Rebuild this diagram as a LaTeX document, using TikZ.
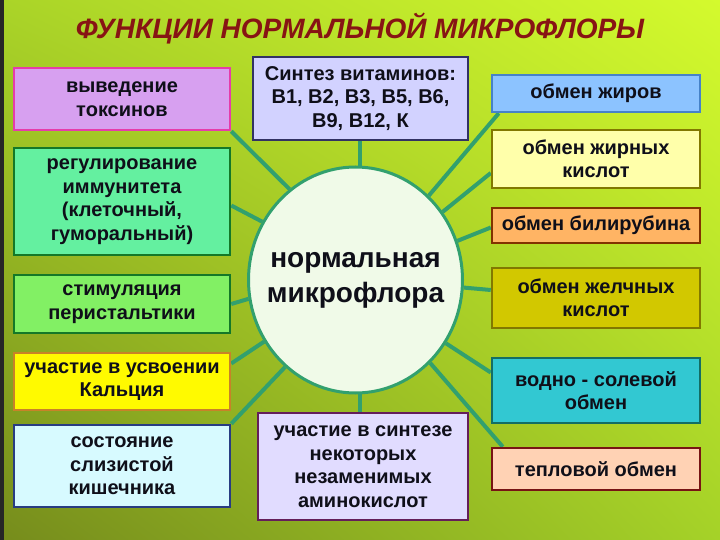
\documentclass[tikz,border=0pt]{standalone}
\usepackage{fontspec}
\setmainfont{Liberation Sans}
\usetikzlibrary{calc,shapes.geometric,shadings}
\pgfdeclarelayer{bg}
\pgfdeclarelayer{conn}
\pgfsetlayers{bg,conn,main}
\definecolor{bgUL}{RGB}{170,212,40}
\definecolor{bgUR}{RGB}{212,250,45}
\definecolor{bgLL}{RGB}{118,140,28}
\definecolor{bgLR}{RGB}{165,210,40}
\definecolor{titlered}{RGB}{135,20,20}
\definecolor{conncol}{RGB}{50,160,110}
\definecolor{ellfill}{RGB}{240,250,232}
\definecolor{txt}{RGB}{15,15,25}
\definecolor{toxF}{RGB}{215,160,240}\definecolor{toxD}{RGB}{230,60,170}
\definecolor{immF}{RGB}{100,240,160}\definecolor{grnD}{RGB}{20,120,40}
\definecolor{perF}{RGB}{130,240,100}
\definecolor{calF}{RGB}{255,250,0}\definecolor{calD}{RGB}{200,130,40}
\definecolor{mucF}{RGB}{215,250,255}\definecolor{mucD}{RGB}{40,60,130}
\definecolor{vitF}{RGB}{210,210,255}\definecolor{vitD}{RGB}{50,50,100}
\definecolor{amiF}{RGB}{225,220,255}\definecolor{amiD}{RGB}{100,30,90}
\definecolor{fatF}{RGB}{140,195,255}\definecolor{fatD}{RGB}{70,130,200}
\definecolor{facF}{RGB}{255,255,170}\definecolor{olvD}{RGB}{130,120,0}
\definecolor{bilF}{RGB}{255,180,100}\definecolor{bilD}{RGB}{130,50,0}
\definecolor{bacF}{RGB}{210,200,0}
\definecolor{watF}{RGB}{50,200,210}\definecolor{watD}{RGB}{20,110,100}
\definecolor{heatF}{RGB}{255,210,180}\definecolor{heatD}{RGB}{120,20,20}
\begin{document}
\begin{tikzpicture}[x=1pt,y=-1pt,
  cbox/.style={rectangle,draw,line width=2.5pt,inner sep=0pt,align=center,
    text=txt,font=\fontsize{20}{23.5}\selectfont\bfseries},
  conn/.style={draw=conncol,line width=4pt}]
\useasboundingbox (0,0) rectangle (720,540);
\begin{pgfonlayer}{bg}
\shade[upper left=bgUL,upper right=bgUR,lower left=bgLL,lower right=bgLR] (0,0) rectangle (720,540);
\fill[black!85] (0,0) rectangle (4,540);
\end{pgfonlayer}

\node[text=titlered,font=\fontsize{28}{30}\selectfont\bfseries\itshape] (title) at (360,29) {ФУНКЦИИ НОРМАЛЬНОЙ МИКРОФЛОРЫ};

\node[ellipse,draw=conncol,line width=3pt,fill=ellfill,minimum width=214pt,minimum height=226pt,inner sep=0pt] (c) at (355.5,280) {};
\node[align=center,text=txt,font=\fontsize{28}{35}\selectfont\bfseries,inner sep=0pt] (ctext) at (c.center) {нормальная\\микрофлора};

% left column
\node[cbox,fill=toxF,draw=toxD,minimum width=216pt,minimum height=62pt] (tox) at (122,99) {выведение\\токсинов};
\node[cbox,fill=immF,draw=grnD,minimum width=216pt,minimum height=107pt] (imm) at (122,201.5) {регулирование\\иммунитета\\(клеточный,\\гуморальный)};
\node[cbox,fill=perF,draw=grnD,minimum width=216pt,minimum height=58pt] (per) at (122,304) {стимуляция\\перистальтики};
\node[cbox,fill=calF,draw=calD,minimum width=216pt,minimum height=57pt] (cal) at (122,381.5) {участие в усвоении\\Кальция};
\node[cbox,fill=mucF,draw=mucD,minimum width=216pt,minimum height=82pt] (muc) at (122,466) {состояние\\слизистой\\кишечника};

% centre column
\node[cbox,fill=vitF,draw=vitD,minimum width=215pt,minimum height=83pt] (vit) at (360.5,98.5) {Синтез витаминов:\\В1, В2, В3, В5, В6,\\В9, В12, К};
\node[cbox,fill=amiF,draw=amiD,minimum width=210pt,minimum height=107pt] (ami) at (363,466.5) {участие в синтезе\\некоторых\\незаменимых\\аминокислот};

% right column
\node[cbox,fill=fatF,draw=fatD,minimum width=208pt,minimum height=37pt] (fat) at (596,93.5) {обмен жиров};
\node[cbox,fill=facF,draw=olvD,minimum width=208pt,minimum height=58pt] (fac) at (596,159) {обмен жирных\\кислот};
\node[cbox,fill=bilF,draw=bilD,minimum width=208pt,minimum height=35pt] (bil) at (596,225.5) {обмен билирубина};
\node[cbox,fill=bacF,draw=olvD,minimum width=208pt,minimum height=60pt] (bac) at (596,298) {обмен желчных\\кислот};
\node[cbox,fill=watF,draw=watD,minimum width=208pt,minimum height=65pt] (wat) at (596,390.5) {водно - солевой\\обмен};
\node[cbox,fill=heatF,draw=heatD,minimum width=208pt,minimum height=42pt] (heat) at (596,469) {тепловой обмен};

\begin{pgfonlayer}{conn}
\draw[conn] (c.126) -- (tox.south east);
\draw[conn] (c.148) -- ($(imm.east)+(0,4)$);
\draw[conn] (c.190) -- (per.east);
\draw[conn] (c.214) -- ($(cal.east)+(0,-18)$);
\draw[conn] (c.231) -- (muc.north east);
\draw[conn] (vit.south -| 360,0) -- (360,170);
\draw[conn] (ami.north -| 360,0) -- (360,390);
\draw[conn] (c.49) -- ($(fat.south west)+(8,0)$);
\draw[conn] (c.38) -- ($(fac.west)+(0,14)$);
\draw[conn] (c.21) -- ($(bil.west)+(0,2)$);
\draw[conn] (c.-4) -- ($(bac.west)+(0,-8)$);
\draw[conn] (c.-35) -- ($(wat.west)+(0,-18)$);
\draw[conn] (c.-48) -- ($(heat.north west)+(12,0)$);
\end{pgfonlayer}
\end{tikzpicture}
\end{document}
